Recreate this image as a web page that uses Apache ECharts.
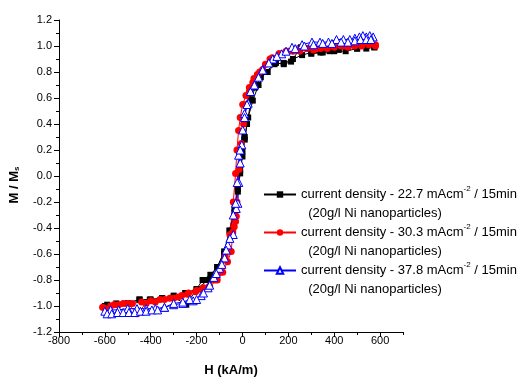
<!DOCTYPE html>
<html>
<head>
<meta charset="utf-8">
<script src="https://cdn.jsdelivr.net/npm/echarts@6/dist/echarts.min.js"></script>
<style>
  html, body { margin: 0; padding: 0; background: #fff; }
  #chart { width: 528px; height: 379px; }
</style>
</head>
<body>
<div id="chart"></div>
<script>
// 22.7 mAcm-2 (black squares): down branch then up branch
const blackH = [575, 540, 500, 460, 420, 380, 340, 300, 260, 220, 180, 140, 100, 70, 45, 25, 10, 0, -10, -20, -35, -55, -80, -110, -150, -200, -245, -300, -350, -400, -450, -500, -550, -600,
  -590, -550, -500, -448, -404, -350, -300, -250, -200, -174, -140, -110, -80, -57, -35, -20, -10, 0, 10, 20, 38, 55, 80, 110, 146, 180, 212, 255, 300, 350, 400, 450, 500, 540, 575];
const blackM = [0.99, 1.00, 0.98, 0.99, 0.97, 0.96, 0.95, 0.95, 0.93, 0.90, 0.87, 0.86, 0.80, 0.70, 0.58, 0.45, 0.30, 0.15, 0.02, -0.12, -0.28, -0.42, -0.58, -0.70, -0.80, -0.87, -0.99, -0.93, -0.94, -0.95, -0.95, -0.98, -0.99, -1.00,
  -0.99, -0.98, -0.98, -0.95, -0.95, -0.94, -0.92, -0.90, -0.87, -0.80, -0.76, -0.70, -0.60, -0.42, -0.25, -0.10, 0.05, 0.19, 0.28, 0.40, 0.59, 0.68, 0.76, 0.80, 0.87, 0.86, 0.88, 0.99, 0.94, 0.95, 0.96, 0.96, 0.98, 0.98, 0.99];

// 30.3 mAcm-2 (red circles)
const redH = [580, 550, 520, 490, 460, 430, 400, 370, 340, 310, 280, 250, 220, 190, 160, 130, 100, 75, 50, 30, 15, 1, -10, -17, -24, -30, -40, -55, -75, -95, -120, -145, -175, -205, -235, -265, -300, -340, -380, -420, -460, -500, -540, -575, -610,
  -600, -560, -520, -480, -440, -400, -360, -317, -280, -240, -200, -170, -143, -110, -86, -65, -49, -42, -36, -30, -27, -24, -15, -5, 5, 15, 30, 45, 65, 88, 120, 160, 200, 240, 280, 320, 360, 400, 440, 480, 520, 560, 580];
const redM = [1.00, 1.01, 1.00, 1.00, 0.99, 1.00, 0.99, 0.98, 0.98, 0.97, 0.98, 0.96, 0.96, 0.96, 0.94, 0.91, 0.86, 0.80, 0.75, 0.68, 0.62, 0.55, 0.45, 0.35, 0.20, 0.02, -0.20, -0.45, -0.62, -0.74, -0.80, -0.85, -0.87, -0.89, -0.90, -0.92, -0.94, -0.95, -0.97, -0.98, -1.06, -0.98, -0.99, -1.00, -1.01,
  -1.02, -0.99, -0.98, -0.98, -0.97, -0.96, -0.95, -0.94, -0.93, -0.91, -0.88, -0.86, -0.85, -0.80, -0.74, -0.66, -0.58, -0.43, -0.39, -0.35, -0.31, -0.20, 0.05, 0.25, 0.40, 0.55, 0.65, 0.72, 0.78, 0.82, 0.90, 0.94, 0.96, 0.97, 0.98, 0.98, 0.99, 1.00, 1.00, 1.01, 1.01, 1.02, 1.01];

// 37.8 mAcm-2 (blue open triangles)
const blueH = [570, 555, 540, 525, 510, 490, 468, 440, 410, 375, 338, 303, 260, 216, 171, 132, 89, 53, 25, 9, -3, -10, -16, -20, -27, -40, -64, -78, -100, -125, -150, -180, -215, -260, -300, -340, -380, -420, -460, -500, -540, -575, -600,
  -590, -570, -545, -520, -495, -470, -445, -420, -395, -370, -340, -300, -260, -230, -200, -170, -143, -114, -90, -71, -55, -40, -30, -23, -17, -10, 1, 9, 20, 35, 52, 70, 88, 115, 150, 190, 230, 270, 310, 350, 390, 430, 460, 490, 515, 540, 560];
const blueM = [1.07, 1.08, 1.07, 1.08, 1.07, 1.06, 1.05, 1.05, 1.05, 1.03, 1.03, 1.03, 1.01, 0.99, 0.94, 0.90, 0.82, 0.70, 0.56, 0.48, 0.24, 0.10, -0.05, -0.21, -0.25, -0.45, -0.53, -0.63, -0.71, -0.78, -0.86, -0.92, -0.96, -0.98, -0.99, -1.01, -1.02, -1.02, -1.02, -1.02, -1.03, -1.03, -1.04,
  -1.06, -1.06, -1.05, -1.05, -1.05, -1.05, -1.04, -1.04, -1.03, -1.03, -1.01, -0.98, -0.97, -0.95, -0.95, -0.90, -0.84, -0.75, -0.68, -0.57, -0.48, -0.30, -0.21, -0.05, 0.16, 0.20, 0.354, 0.45, 0.55, 0.65, 0.70, 0.76, 0.815, 0.87, 0.92, 0.96, 0.98, 1.00, 1.01, 1.02, 1.02, 1.03, 1.03, 1.04, 1.05, 1.05, 1.05];

const seriesNames = [
  "current density - 22.7 mAcm-2 / 15min",
  "current density - 30.3 mAcm-2 / 15min",
  "current density - 37.8 mAcm-2 / 15min",
];
const xMajorTicks = [-800, -600, -400, -200, 0, 200, 400, 600];

const zip = (xs, ys) => xs.map((x, i) => [x, ys[i]]);

const baseFont = "Liberation Sans, Arial, sans-serif";

const chart = echarts.init(document.getElementById("chart"));

const option = {
  animation: false,
  backgroundColor: "#fff",
  grid: { left: 59, right: 125, top: 20, bottom: 47, outerBoundsMode: "none" },
  legend: {
    orient: "vertical",
    left: 263,
    top: 166,
    padding: 0,
    itemGap: -19,
    itemWidth: 32,
    itemHeight: 8,
    data: seriesNames,
    formatter: (name) => {
      const parts = name.split("mAcm-2");
      return parts[0] + "mAcm{sup|-2}" + parts[1] + "\n  (20g/l Ni nanoparticles)";
    },
    textStyle: {
      fontFamily: baseFont,
      fontSize: 13,
      color: "#000",
      lineHeight: 19,
      padding: [19, 0, 0, 0],
      rich: {
        sup: { fontFamily: baseFont, fontSize: 8, lineHeight: 10, verticalAlign: "top", color: "#000" },
      },
    },
  },
  xAxis: [
    {
      type: "value",
      min: -800,
      max: 700,
      interval: 100,
      splitLine: { show: false },
      axisLine: { onZero: false, lineStyle: { color: "#000", width: 1 } },
      axisTick: { length: 3, lineStyle: { color: "#000" } },
      axisLabel: { show: false },
    },
    {
      type: "value",
      position: "bottom",
      min: -800,
      max: 700,
      splitLine: { show: false },
      axisLine: { onZero: false, lineStyle: { color: "#000", width: 1 } },
      axisTick: { length: 5, customValues: xMajorTicks, lineStyle: { color: "#000" } },
      axisLabel: {
        customValues: xMajorTicks,
        fontFamily: baseFont,
        fontSize: 11,
        color: "#000",
        margin: 3,
      },
      name: "H (kA/m)",
      nameLocation: "middle",
      nameGap: 32,
      nameTextStyle: { fontFamily: baseFont, fontSize: 13, fontWeight: "bold", color: "#000" },
    },
  ],
  yAxis: {
    type: "value",
    min: -1.2,
    max: 1.2,
    interval: 0.2,
    splitLine: { show: false },
    axisLine: { show: true, onZero: false, lineStyle: { color: "#000", width: 1 } },
    axisTick: { show: true, length: 5, lineStyle: { color: "#000" } },
    minorTick: { show: true, splitNumber: 2, length: 3, lineStyle: { color: "#000" } },
    axisLabel: {
      fontFamily: baseFont,
      fontSize: 11,
      color: "#000",
      margin: 7,
      formatter: (v) => v.toFixed(1),
    },
    name: "M / M{sub|s}",
    nameLocation: "middle",
    nameRotate: 90,
    nameGap: 38,
    nameTextStyle: {
      fontFamily: baseFont,
      fontSize: 13,
      fontWeight: "bold",
      color: "#000",
      padding: [0, 18, 0, 0],
      rich: {
        sub: { fontFamily: baseFont, fontSize: 8, fontWeight: "bold", lineHeight: 10, verticalAlign: "bottom", color: "#000" },
      },
    },
  },
  series: [
    {
      name: seriesNames[0],
      type: "line",
      xAxisIndex: 0,
      data: zip(blackH, blackM),
      symbol: "rect",
      symbolSize: 6,
      itemStyle: { color: "#000" },
      lineStyle: { color: "#000", width: 1 },
    },
    {
      name: seriesNames[1],
      type: "line",
      xAxisIndex: 0,
      data: zip(redH, redM),
      symbol: "circle",
      symbolSize: 7,
      itemStyle: { color: "#ff0000" },
      lineStyle: { color: "#ff0000", width: 1 },
    },
    {
      name: seriesNames[2],
      type: "line",
      xAxisIndex: 0,
      data: zip(blueH, blueM),
      symbol: "triangle",
      symbolSize: 8,
      itemStyle: { color: "#fff", borderColor: "#0000ff", borderWidth: 1 },
      lineStyle: { color: "#0000ff", width: 1 },
    },
  ],
};

chart.setOption(option);
</script>
</body>
</html>
